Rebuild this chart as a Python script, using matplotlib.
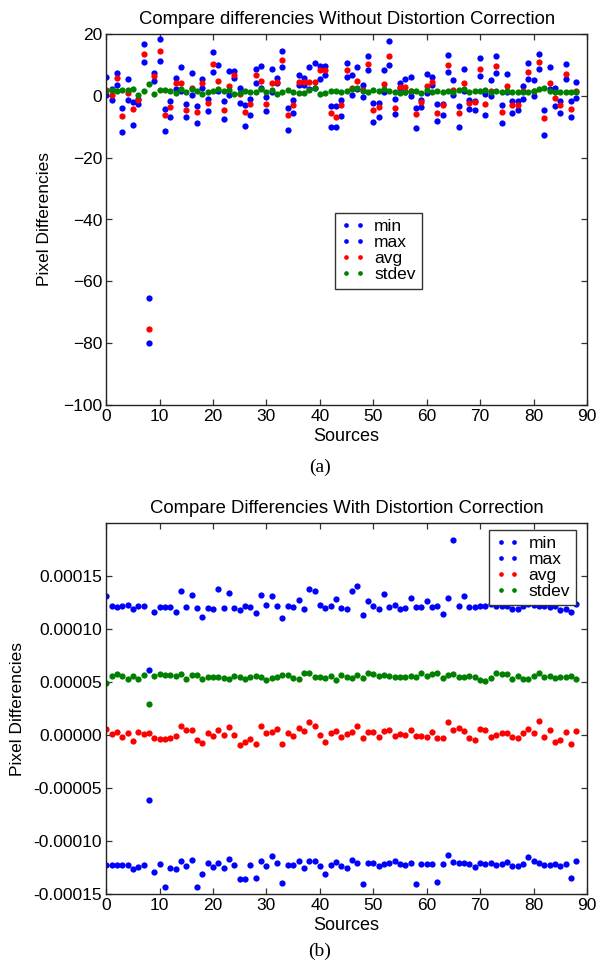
import matplotlib
matplotlib.use("Agg")
import matplotlib.pyplot as plt
import numpy as np

plt.rcParams['font.family'] = ['Liberation Sans', 'DejaVu Sans']

sources = list(range(89))

# ---- (a) without distortion correction ----
a_max = [6.2, 2.2, 7.4, -4.0, 5.3, -1.9, -0.9, 16.8, -65.5, 7.5,
         18.3, -4.1, -1.8, 5.7, 9.4, -2.8, 7.4, -3.3, 5.3, -1.1,
         14.2, 10.1, -1.7, 8.0, 8.0, 2.5, -2.9, -1.0, 8.6, 9.6,
         -0.4, 8.7, 5.7, 14.4, -3.9, -1.5, 6.6, 5.7, 9.4, 10.6,
         9.5, 9.5, -3.4, -3.4, -1.3, 10.6, 6.8, 9.4, 3.4, 12.9,
         -2.4, -2.2, 8.5, 17.7, -1.1, 4.1, 5.5, 6.1, -3.8, -1.2,
         7.0, 6.1, -2.7, -2.5, 13.3, 5.2, -3.4, 8.6, -1.3, -1.6,
         12.2, 0.6, 5.2, 13.0, -3.1, 7.0, -1.7, -1.6, 3.2, 10.5,
         5.2, 13.4, -4.5, 9.2, 2.4, -1.8, 10.2, -1.6, 4.5]
a_avg = [1.8, 0.4, 5.8, -6.6, 1.0, -4.1, -1.4, 13.5, -75.3, 6.5,
         14.5, -6.3, -3.5, 4.3, 4.3, -4.6, 2.6, -5.3, 4.1, -2.4,
         10.4, 4.8, -4.7, 3.2, 6.8, 0.6, -5.1, -2.7, 6.8, 4.9,
         -2.8, 4.1, 4.5, 11.5, -6.1, -3.1, 4.6, 4.6, 4.6, 4.5,
         8.3, 8.3, -5.7, -6.9, -3.0, 8.2, 2.6, 4.8, 1.8, 10.3,
         -4.7, -3.7, 3.7, 13.0, -3.8, 2.8, 2.7, 1.7, -5.9, -2.0,
         3.1, 4.4, -5.5, -2.9, 9.9, 1.9, -5.6, 4.2, -2.2, -2.0,
         8.8, -2.7, 1.5, 9.6, -5.1, 3.1, -2.9, -3.0, 1.6, 7.6,
         1.7, 10.8, -7.3, 4.2, -0.6, -2.9, 7.2, -4.4, 1.5]
a_min = [0.2, -1.5, 3.5, -11.8, -1.2, -9.4, -2.5, 11.1, -80.0, 4.7,
         11.3, -11.5, -7.0, 2.2, 1.5, -7.0, 0.2, -8.8, 2.4, -4.9,
         7.6, 1.5, -7.4, 0.4, 5.7, -2.2, -9.7, -6.1, 4.1, 2.5,
         -4.9, 1.3, 4.1, 9.4, -11.1, -5.7, 3.4, 3.4, 2.3, 2.5,
         5.4, 6.8, -10.2, -10.1, -6.5, 6.0, 0.3, 2.3, -0.4, 8.2,
         -8.5, -6.8, 1.2, 9.9, -5.9, 2.4, 1.1, 0.0, -10.4, -3.7,
         0.9, 3.4, -8.2, -6.2, 7.7, 0.4, -10.0, 1.5, -4.4, -4.5,
         6.5, -6.2, 0.0, 7.4, -8.8, 1.1, -5.5, -4.5, -1.1, 5.5,
         -0.1, 8.6, -12.6, 2.3, -3.4, -5.4, 5.3, -6.8, -0.6]
a_std = [1.6, 1.9, 1.6, 1.9, 1.9, 2.2, 0.3, 1.7, 3.7, 0.6,
         1.9, 1.9, 1.7, 0.8, 2.2, 1.1, 2.2, 1.5, 0.6, 1.1,
         1.5, 2.2, 1.5, 1.9, 0.6, 0.9, 1.6, 1.4, 1.2, 2.2,
         1.1, 1.9, 0.6, 1.4, 1.9, 1.3, 0.9, 0.8, 2.0, 2.5,
         0.6, 1.0, 1.6, 1.6, 1.3, 1.6, 2.2, 2.4, 1.6, 1.4,
         1.8, 1.5, 2.2, 1.7, 1.4, 0.9, 1.2, 1.7, 1.6, 1.0,
         1.8, 1.1, 1.5, 1.3, 1.7, 1.4, 2.0, 2.3, 1.3, 1.5,
         1.5, 1.8, 1.4, 1.5, 1.4, 1.5, 1.3, 1.1, 1.4, 1.4,
         1.6, 2.2, 2.6, 1.6, 1.1, 1.3, 1.3, 1.4, 1.4]

# ---- (b) with distortion correction (values in units of 1e-5) ----
UNIT_B = 1e-5
b_max = [13.1, 12.2, 12.1, 12.2, 12.3, 11.9, 12.2, 12.2, 6.1, 11.6,
         12.1, 12.1, 12.1, 11.6, 13.6, 12.1, 13.2, 12.0, 11.1, 12.0,
         11.9, 13.75, 12.0, 13.4, 12.0, 11.8, 12.2, 12.1, 11.5, 13.2,
         12.3, 13.1, 12.2, 11.0, 12.2, 12.1, 12.7, 11.9, 13.8, 13.6,
         12.3, 12.0, 12.2, 12.8, 12.0, 11.9, 13.6, 14.1, 11.3, 12.6,
         12.2, 11.9, 13.3, 12.1, 12.3, 11.9, 12.0, 12.9, 12.1, 12.1,
         12.6, 12.1, 12.2, 11.4, 12.9, 18.35, 12.2, 13.1, 12.1, 12.1,
         12.2, 12.2, 12.4, 12.2, 12.2, 12.2, 11.9, 11.9, 12.2, 12.4,
         12.3, 12.2, 12.2, 12.1, 12.2, 11.8, 11.9, 11.6, 12.4]
b_avg = [0.57, 0.06, 0.32, -0.22, 0.19, -0.57, 0.32, 0.13, 0.16, -0.25,
         -0.38, -0.41, -0.32, -0.10, 0.83, 0.45, 0.51, -0.45, -0.76, 0.16,
         -0.10, 0.51, 0.00, 0.76, 0.00, -0.99, -0.67, -0.38, -0.89, 0.86,
         0.22, 0.32, 0.60, -0.86, 0.22, -0.06, 0.70, 0.35, 1.18, 0.83,
         0.00, -0.70, 0.16, 0.35, -0.19, 0.13, 0.29, 0.89, -0.32, 0.29,
         0.25, -0.19, 0.35, 0.48, -0.10, 0.10, 0.03, 0.45, -0.06, -0.06,
         -0.19, 0.29, -0.25, -0.25, 1.27, 0.48, 0.64, 0.35, -0.32, -0.48,
         0.54, 0.45, -0.22, -0.03, 0.16, 0.19, -0.19, -0.32, 0.22, 0.60,
         0.19, 1.31, -0.19, 0.45, -0.64, -0.48, 0.32, -0.89, 0.41]
b_min = [-12.25, -12.25, -12.25, -12.3, -12.25, -12.66, -12.47, -12.25, -6.14, -12.94,
         -12.2, -14.3, -12.5, -12.66, -11.9, -12.34, -11.77, -14.3, -13.07, -12.09,
         -12.44, -12.06, -12.5, -11.68, -12.28, -13.6, -13.54, -12.28, -13.45, -11.84,
         -12.34, -11.4, -12.09, -13.96, -12.28, -12.28, -11.93, -12.5, -11.84, -11.84,
         -12.37, -13.13, -12.28, -11.96, -12.37, -12.56, -11.77, -12.06, -14.08, -12.06,
         -12.06, -12.37, -12.2, -12.09, -11.87, -12.15, -12.25, -12.06, -14.02, -12.18,
         -12.15, -12.2, -13.83, -12.2, -11.3, -12.0, -12.03, -12.03, -12.2, -12.44,
         -12.06, -12.2, -12.12, -12.3, -12.2, -11.96, -12.34, -12.4, -12.2, -11.49,
         -11.9, -12.03, -12.25, -12.28, -12.18, -12.37, -12.2, -13.5, -11.87]
b_std = [4.94, 5.57, 5.76, 5.57, 5.32, 5.57, 5.25, 5.67, 2.93, 5.54,
         5.76, 5.67, 5.67, 5.60, 5.73, 5.29, 5.67, 5.67, 5.29, 5.48,
         5.51, 5.51, 5.35, 5.29, 5.60, 5.48, 5.29, 5.48, 5.60, 5.48,
         5.22, 5.38, 5.48, 5.67, 5.67, 5.38, 5.25, 5.83, 5.86, 5.48,
         5.51, 5.35, 5.54, 5.19, 5.64, 5.45, 5.38, 5.70, 5.41, 5.86,
         5.80, 5.57, 5.67, 5.54, 5.48, 5.48, 5.51, 5.54, 5.48, 5.83,
         5.60, 5.73, 5.83, 5.38, 5.70, 5.80, 5.51, 5.48, 5.60, 5.51,
         5.22, 5.10, 5.35, 5.86, 5.76, 5.76, 5.32, 5.57, 5.29, 5.29,
         5.57, 5.86, 5.51, 5.60, 5.38, 5.51, 5.48, 5.57, 5.29]

series_labels = ["min", "max", "avg", "stdev"]
series_colors = ["#0000ff", "#0000ff", "#ff0000", "#008000"]

titles = ["Compare differencies Without Distortion Correction",
          "Compare Differencies With Distortion Correction"]
xlabel = "Sources"
ylabel = "Pixel Differencies"
captions = ["(a)", "(b)"]

a_yticks = [20, 0, -20, -40, -60, -80, -100]
b_yticks = [0.00015, 0.00010, 0.00005, 0.0, -0.00005, -0.00010, -0.00015]
xticks = [0, 10, 20, 30, 40, 50, 60, 70, 80, 90]

W, H = 601, 971
fig = plt.figure(figsize=(W / 100, H / 100), dpi=100)

def frac(x0, y0, x1, y1):
    return [x0 / W, 1 - y1 / H, (x1 - x0) / W, (y1 - y0) / H]

ax1 = fig.add_axes(frac(106.2, 34, 587, 405))
ax2 = fig.add_axes(frac(106.2, 523, 587, 894))

def style(ax):
    for s in ax.spines.values():
        s.set_color("#222222")
        s.set_linewidth(1.0)
    ax.tick_params(direction="in", top=True, right=True, length=4,
                   width=0.9, labelsize=12.5, pad=3, color="#333333")

def draw(ax, data, legend_kw):
    for vals, lab, col in zip(data, series_labels, series_colors):
        ax.plot(sources, vals, linestyle="none", marker="o", ms=4.5,
                mew=0, color=col, label=lab)
    leg = ax.legend(numpoints=2, fancybox=False, framealpha=1,
                    edgecolor="#333333", fontsize=12.5, handlelength=1.4,
                    handletextpad=0.5, labelspacing=0.05, borderpad=0.35,
                    borderaxespad=0, markerscale=0.75, **legend_kw)
    leg.get_frame().set_linewidth(1.0)

draw(ax1, [a_min, a_max, a_avg, a_std],
     dict(loc="upper left", bbox_to_anchor=(0.476, 0.517)))
ax1.set_xlim(0, 90)
ax1.set_ylim(-100, 20)
ax1.set_xticks(xticks)
ax1.set_yticks(a_yticks)
style(ax1)
ax1.set_title(titles[0], fontsize=13.3, pad=7)
ax1.set_xlabel(xlabel, fontsize=13, labelpad=3)
ax1.set_ylabel(ylabel, fontsize=12.5, labelpad=8)

b_data = [[v * UNIT_B for v in s] for s in (b_min, b_max, b_avg, b_std)]
draw(ax2, b_data, dict(loc="upper right", bbox_to_anchor=(0.977, 0.981)))
ax2.set_xlim(0, 90)
ax2.set_ylim(-0.00015, 0.0002)
ax2.set_xticks(xticks)
ax2.set_yticks(b_yticks)
ax2.set_yticklabels(["%.5f" % t for t in b_yticks])
style(ax2)
ax2.set_title(titles[1], fontsize=13.3, pad=7)
ax2.set_xlabel(xlabel, fontsize=13, labelpad=3)
ax2.set_ylabel(ylabel, fontsize=12.5, labelpad=6)

fig.text(320 / W, 1 - 467 / H, captions[0], ha="center", va="center",
         fontsize=14, family=["Liberation Serif", "DejaVu Serif"])
fig.text(320 / W, 1 - 951 / H, captions[1], ha="center", va="center",
         fontsize=14, family=["Liberation Serif", "DejaVu Serif"])

fig.savefig("out.png", dpi=100)
